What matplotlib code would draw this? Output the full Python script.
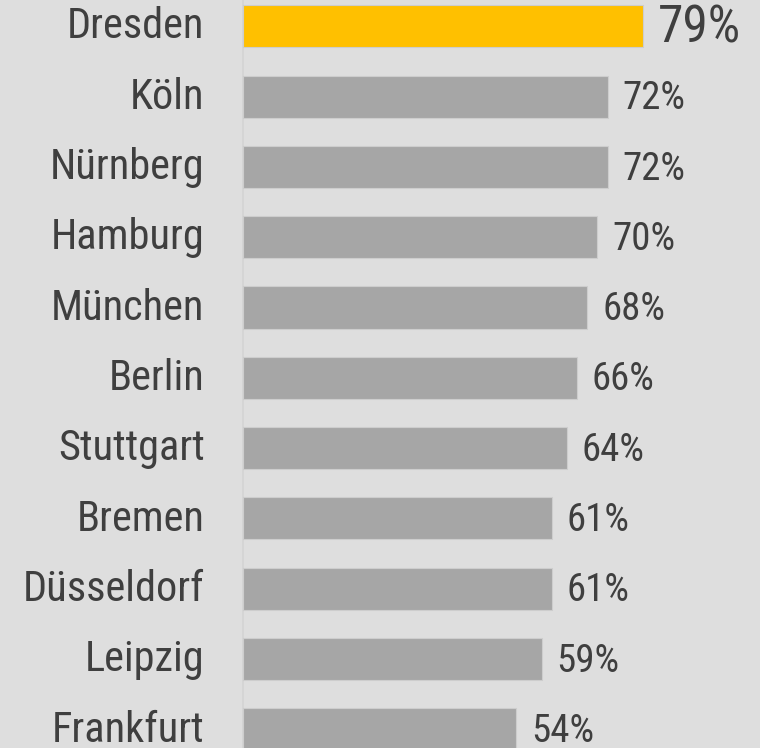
import matplotlib
matplotlib.use("Agg")
import matplotlib.pyplot as plt
import numpy as np

# data
cities = ["Dresden", "Köln", "Nürnberg", "Hamburg", "München", "Berlin",
          "Stuttgart", "Bremen", "Düsseldorf", "Leipzig", "Frankfurt"]
values = [79, 72, 72, 70, 68, 66, 64, 61, 61, 59, 54]
highlight = "Dresden"

bg = "#dedede"
bar_grey = "#a6a6a6"
yellow = "#ffc000"
txt = "#3f3f3f"
fonts = ["Roboto Condensed", "DejaVu Sans"]

fig = plt.figure(figsize=(7.6, 7.48), dpi=100, facecolor=bg)
ax = fig.add_axes([0, 0, 1, 1])
ax.set_facecolor(bg)

y = np.arange(len(cities))
colors = [yellow if c == highlight else bar_grey for c in cities]
ax.barh(y, values, height=0.6, color=colors, edgecolor="#cdcdcd", linewidth=0.8)

ax.axvline(0, color="#d4d4d4", lw=1.2, zorder=0)

for i, (c, v) in enumerate(zip(cities, values)):
    big = c == highlight
    ax.text(-7.6, i + 0.01, c, ha="right", va="center", fontsize=30.5,
            color=txt, family=fonts)
    ax.text(v + 2.9, i + 0.03, f"{v}%", ha="left", va="center",
            fontsize=37 if big else 28, color=txt, family=fonts)

ax.set_xlim(-48.0, 102.1)
ax.set_ylim(10.266, -0.374)
ax.axis("off")

fig.savefig("out.png", dpi=100, facecolor=bg)
